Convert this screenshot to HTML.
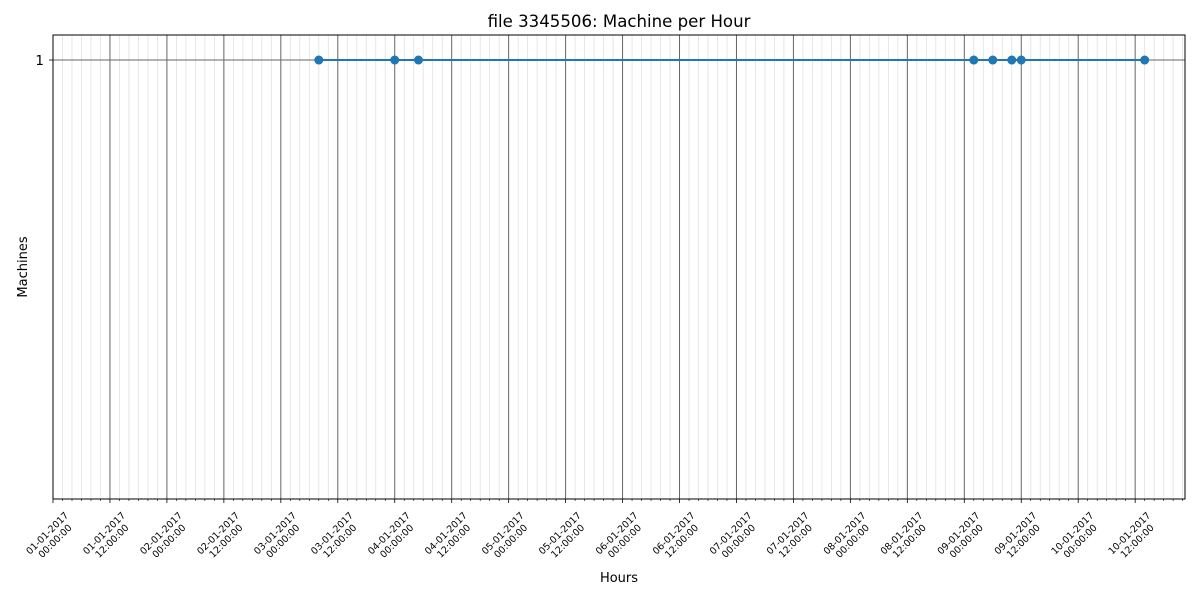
<!DOCTYPE html>
<html><head><meta charset="utf-8"><style>
body{margin:0;background:#fff}
svg{display:block;font-family:"DejaVu Sans","Liberation Sans",sans-serif}
</style></head><body>
<svg id="chart" width="1200" height="600" viewBox="0 0 1200 600">
<rect width="1200" height="600" fill="#fff"/>
<text x="619" y="27" text-anchor="middle" font-size="16.6">file 3345506: Machine per Hour</text>
<text x="619" y="582" text-anchor="middle" font-size="13">Hours</text>
<text transform="translate(27,267) rotate(-90)" text-anchor="middle" font-size="13">Machines</text>
<g id="grid"></g><g id="series"></g><g id="axes"></g>
</svg>
<script>
// hours since 01-01-2017 00:00
const hours = [56, 72, 77, 194, 198, 202, 204, 230];
const machines = [1, 1, 1, 1, 1, 1, 1, 1];
const yTicks = [1];
const majorTickHours = [0,12,24,36,48,60,72,84,96,108,120,132,144,156,168,180,192,204,216,228];
const tickLabels = ["01-01-2017|00:00:00","01-01-2017|12:00:00","02-01-2017|00:00:00","02-01-2017|12:00:00","03-01-2017|00:00:00","03-01-2017|12:00:00","04-01-2017|00:00:00","04-01-2017|12:00:00","05-01-2017|00:00:00","05-01-2017|12:00:00","06-01-2017|00:00:00","06-01-2017|12:00:00","07-01-2017|00:00:00","07-01-2017|12:00:00","08-01-2017|00:00:00","08-01-2017|12:00:00","09-01-2017|00:00:00","09-01-2017|12:00:00","10-01-2017|00:00:00","10-01-2017|12:00:00"];

const L=53,R=1185,T=35,B=499, xMin=0,xMax=238.5, yMin=0,yMax=1.057;
const NS="http://www.w3.org/2000/svg";
const xs=h=>L+(h-xMin)/(xMax-xMin)*(R-L);
const ys=v=>B-(v-yMin)/(yMax-yMin)*(B-T);
function mk(tag,attrs,parent){const e=document.createElementNS(NS,tag);for(const k in attrs)e.setAttribute(k,attrs[k]);parent.appendChild(e);return e;}
const grid=document.getElementById('grid'),series=document.getElementById('series'),axes=document.getElementById('axes');

for(let h=0;h<=xMax;h+=2){
  if(h%12===0)continue;
  const ln=mk('line',{x1:xs(h),x2:xs(h),y1:T,y2:B,stroke:'#e0e0e0','stroke-width':0.8},grid);
  
  
  const tk=mk('line',{x1:xs(h),x2:xs(h),y1:B,y2:B+2,stroke:'#000','stroke-width':0.6},axes);
  
  
}
majorTickHours.forEach((h,i)=>{
  const x=xs(h);
  if(h>0){const g=mk('line',{x1:x,x2:x,y1:T,y2:B,stroke:'#666','stroke-width':1},grid);
  
  }
  const tk=mk('line',{x1:x,x2:x,y1:B,y2:B+4,stroke:'#000','stroke-width':0.8},axes);
  
  
  const parts=tickLabels[i].split('|');
  const t=mk('text',{transform:`translate(${x-3.5},${B+36.5}) rotate(-45)`,'text-anchor':'middle','font-size':9.5},axes);
  
  
  const a=mk('tspan',{x:0,y:0},t);a.textContent=parts[0];
  const b=mk('tspan',{x:0,dy:11},t);b.textContent=parts[1];
});
yTicks.forEach(v=>{
  const y=ys(v);
  const g=mk('line',{x1:L,x2:R,y1:y,y2:y,stroke:'#666','stroke-width':1},grid);
  
  
  const tk=mk('line',{x1:L-4,x2:L,y1:y,y2:y,stroke:'#000','stroke-width':0.8},axes);
  
  
  const t=mk('text',{x:L-9,y:y+5,'text-anchor':'end','font-size':13.5},axes);
  
  
  t.textContent=v;
});
const frame=mk('rect',{x:L,y:T,width:R-L,height:B-T,fill:'none',stroke:'#000','stroke-width':1},axes);



const pts=hours.map((h,i)=>xs(h)+','+ys(machines[i])).join(' ');
const pl=mk('polyline',{points:pts,fill:'none',stroke:'#1f77b4','stroke-width':2},series);


hours.forEach((h,i)=>{
  const c=mk('circle',{cx:xs(h),cy:ys(machines[i]),r:4.5,fill:'#1f77b4'},series);
  
  
});
</script>
</body></html>
